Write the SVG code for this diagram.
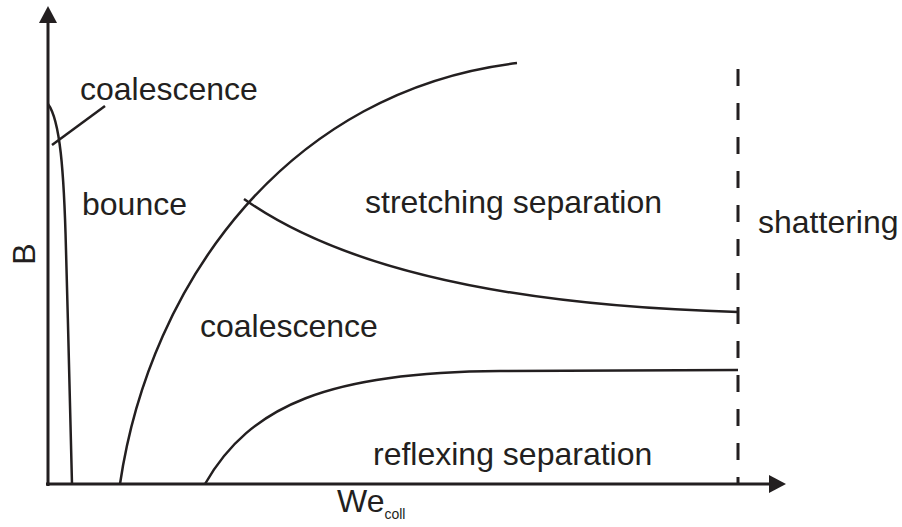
<svg xmlns="http://www.w3.org/2000/svg" width="902" height="527" viewBox="0 0 902 527">
<style>
.ax{stroke:#231f20;stroke-width:3;fill:none}
.cv{stroke:#231f20;stroke-width:2.5;fill:none}
.ds{stroke:#231f20;stroke-width:3;fill:none;stroke-dasharray:17 17}
.t{font-family:"Liberation Sans",Arial,sans-serif;font-size:32px;fill:#231f20}
</style>
<rect width="902" height="527" fill="#fff"/>
<g id="axes">
<line class="ax" x1="48" y1="486" x2="48" y2="20"/>
<polygon points="48,6 39,23 57,23" fill="#231f20"/>
<line class="ax" x1="46" y1="484" x2="772" y2="484"/>
<polygon points="786,484 769,475 769,493" fill="#231f20"/>
<text class="t" x="35" y="254" font-size="30" text-anchor="middle" transform="rotate(-90 35 254)">B</text>
<text class="t" x="337" y="512" font-size="28">We<tspan font-size="14" dy="7">coll</tspan></text>
</g>
<g id="connectors">
<path class="cv" d="M48,104 C60,120 64,170 66,250 C68,330 71,420 72,484"/>
<line class="cv" x1="52" y1="145" x2="105" y2="106"/>
<path class="cv" d="M120,484 C150,280 290,90 517,63"/>
<path class="cv" d="M244,199 C330,260 480,305 738,312"/>
<path class="cv" d="M205,484 C250,405 330,372 500,371 L738,370"/>
<line class="ds" x1="738" y1="69" x2="738" y2="484"/>
</g>
<g id="labels">
<text class="t" x="80" y="100">coalescence</text>
<text class="t" x="82" y="215">bounce</text>
<text class="t" x="200" y="337">coalescence</text>
<text class="t" x="365" y="213">stretching separation</text>
<text class="t" x="373" y="465">reflexing separation</text>
<text class="t" x="758" y="233">shattering</text>
</g>
</svg>
